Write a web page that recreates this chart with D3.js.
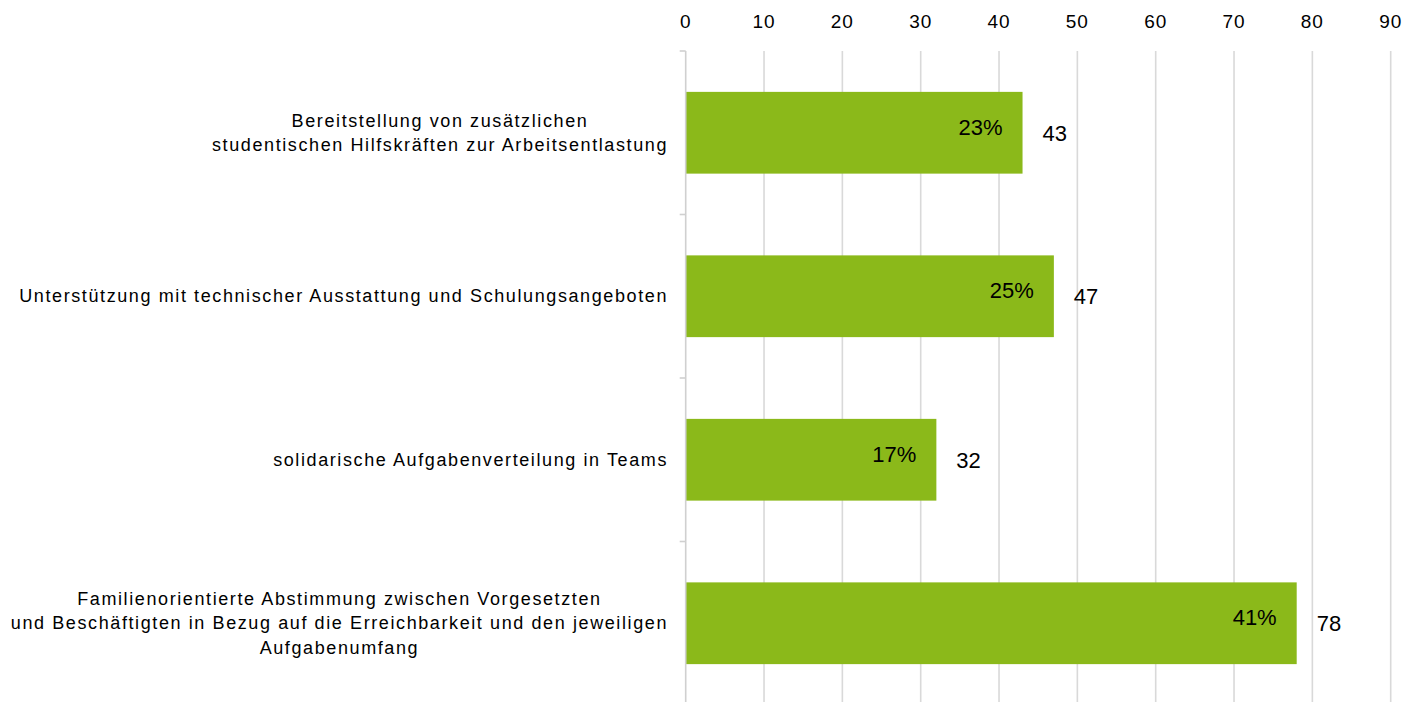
<!DOCTYPE html>
<html>
<head>
<meta charset="utf-8">
<script src="https://cdn.jsdelivr.net/npm/d3@7"></script>
<style>
  body { margin: 0; background: #fff; }
  text { font-family: "Liberation Sans", Arial, sans-serif; fill: #000; }
</style>
</head>
<body>
<script>
// data
var categories = [
  ["Bereitstellung von zusätzlichen", "studentischen Hilfskräften zur Arbeitsentlastung"],
  ["Unterstützung mit technischer Ausstattung und Schulungsangeboten"],
  ["solidarische Aufgabenverteilung in Teams"],
  ["Familienorientierte Abstimmung zwischen Vorgesetzten", "und Beschäftigten in Bezug auf die Erreichbarkeit und den jeweiligen", "Aufgabenumfang"]
];
var counts = [43, 47, 32, 78];
var percents = ["23%", "25%", "17%", "41%"];
var xTicks = [0, 10, 20, 30, 40, 50, 60, 70, 80, 90];

var W = 1412, H = 702;
var plotLeft = 685.7, plotRight = 1390.7, plotTop = 51, plotBottom = 705;

var svg = d3.select("body").append("svg").attr("width", W).attr("height", H);

var x = d3.scaleLinear().domain([0, 90]).range([plotLeft, plotRight]);
var y = d3.scaleBand().domain(d3.range(categories.length)).range([plotTop, plotBottom]).paddingInner(0.5).paddingOuter(0.25);

// gridlines
svg.selectAll("line.grid")
  .data(xTicks.slice(1))
  .enter().append("line")
  .attr("class", "grid")
  .attr("x1", function(d){ return x(d); })
  .attr("x2", function(d){ return x(d); })
  .attr("y1", plotTop).attr("y2", plotBottom)
  .attr("stroke", "#d9d9d9").attr("stroke-width", 1.6);

// x tick labels on top
svg.selectAll("text.xt")
  .data(xTicks)
  .enter().append("text")
  .attr("class", "xt")
  .attr("x", function(d){ return x(d); })
  .attr("y", 28)
  .attr("text-anchor", "middle")
  .style("font-size", "19px")
  .style("letter-spacing", "1px")
  .text(function(d){ return d; });

// bars
svg.selectAll("rect.bar")
  .data(counts)
  .enter().append("rect")
  .attr("class", "bar")
  .attr("x", x(0))
  .attr("y", function(d, i){ return y(i); })
  .attr("width", function(d){ return x(d) - x(0); })
  .attr("height", y.bandwidth())
  .attr("fill", "#8bb91a");

// left axis line + ticks at band boundaries
var step = (plotBottom - plotTop) / categories.length;
svg.append("line")
  .attr("x1", plotLeft).attr("x2", plotLeft).attr("y1", plotTop).attr("y2", plotBottom)
  .attr("stroke", "#d0d0d0").attr("stroke-width", 1.6);
svg.selectAll("line.ytick")
  .data(d3.range(categories.length + 1))
  .enter().append("line")
  .attr("class", "ytick")
  .attr("x1", plotLeft - 6).attr("x2", plotLeft)
  .attr("y1", function(i){ return plotTop + i * step; })
  .attr("y2", function(i){ return plotTop + i * step; })
  .attr("stroke", "#d0d0d0").attr("stroke-width", 1.6);

// percent labels inside bars
svg.selectAll("text.pct")
  .data(percents)
  .enter().append("text")
  .attr("class", "pct")
  .attr("x", function(d, i){ return x(counts[i]) - 20; })
  .attr("y", function(d, i){ return y(i) + y.bandwidth() / 2 + 2; })
  .attr("text-anchor", "end")
  .style("font-size", "22px")
  .text(function(d){ return d; });

// count labels
svg.selectAll("text.cnt")
  .data(counts)
  .enter().append("text")
  .attr("class", "cnt")
  .attr("x", function(d){ return x(d) + 20; })
  .attr("y", function(d, i){ return y(i) + y.bandwidth() / 2 + 8; })
  .style("font-size", "22px")
  .text(function(d){ return d; });

// category labels (centred block, right edge at 668)
var labelRight = 668, lineH = 24.5;
categories.forEach(function(lines, i) {
  var g = svg.append("text")
    .style("font-size", "18px")
    .style("letter-spacing", "1.6px")
    .attr("text-anchor", "middle");
  var cy = plotTop + (i + 0.5) * step;
  var spans = g.selectAll("tspan").data(lines).enter().append("tspan")
    .attr("y", function(d, j){ return cy + 6 + (j - (lines.length - 1) / 2) * lineH; })
    .text(function(d){ return d; });
  var maxW = 0;
  spans.each(function(){ maxW = Math.max(maxW, this.getComputedTextLength()); });
  spans.attr("x", labelRight - maxW / 2);
});
</script>
</body>
</html>
